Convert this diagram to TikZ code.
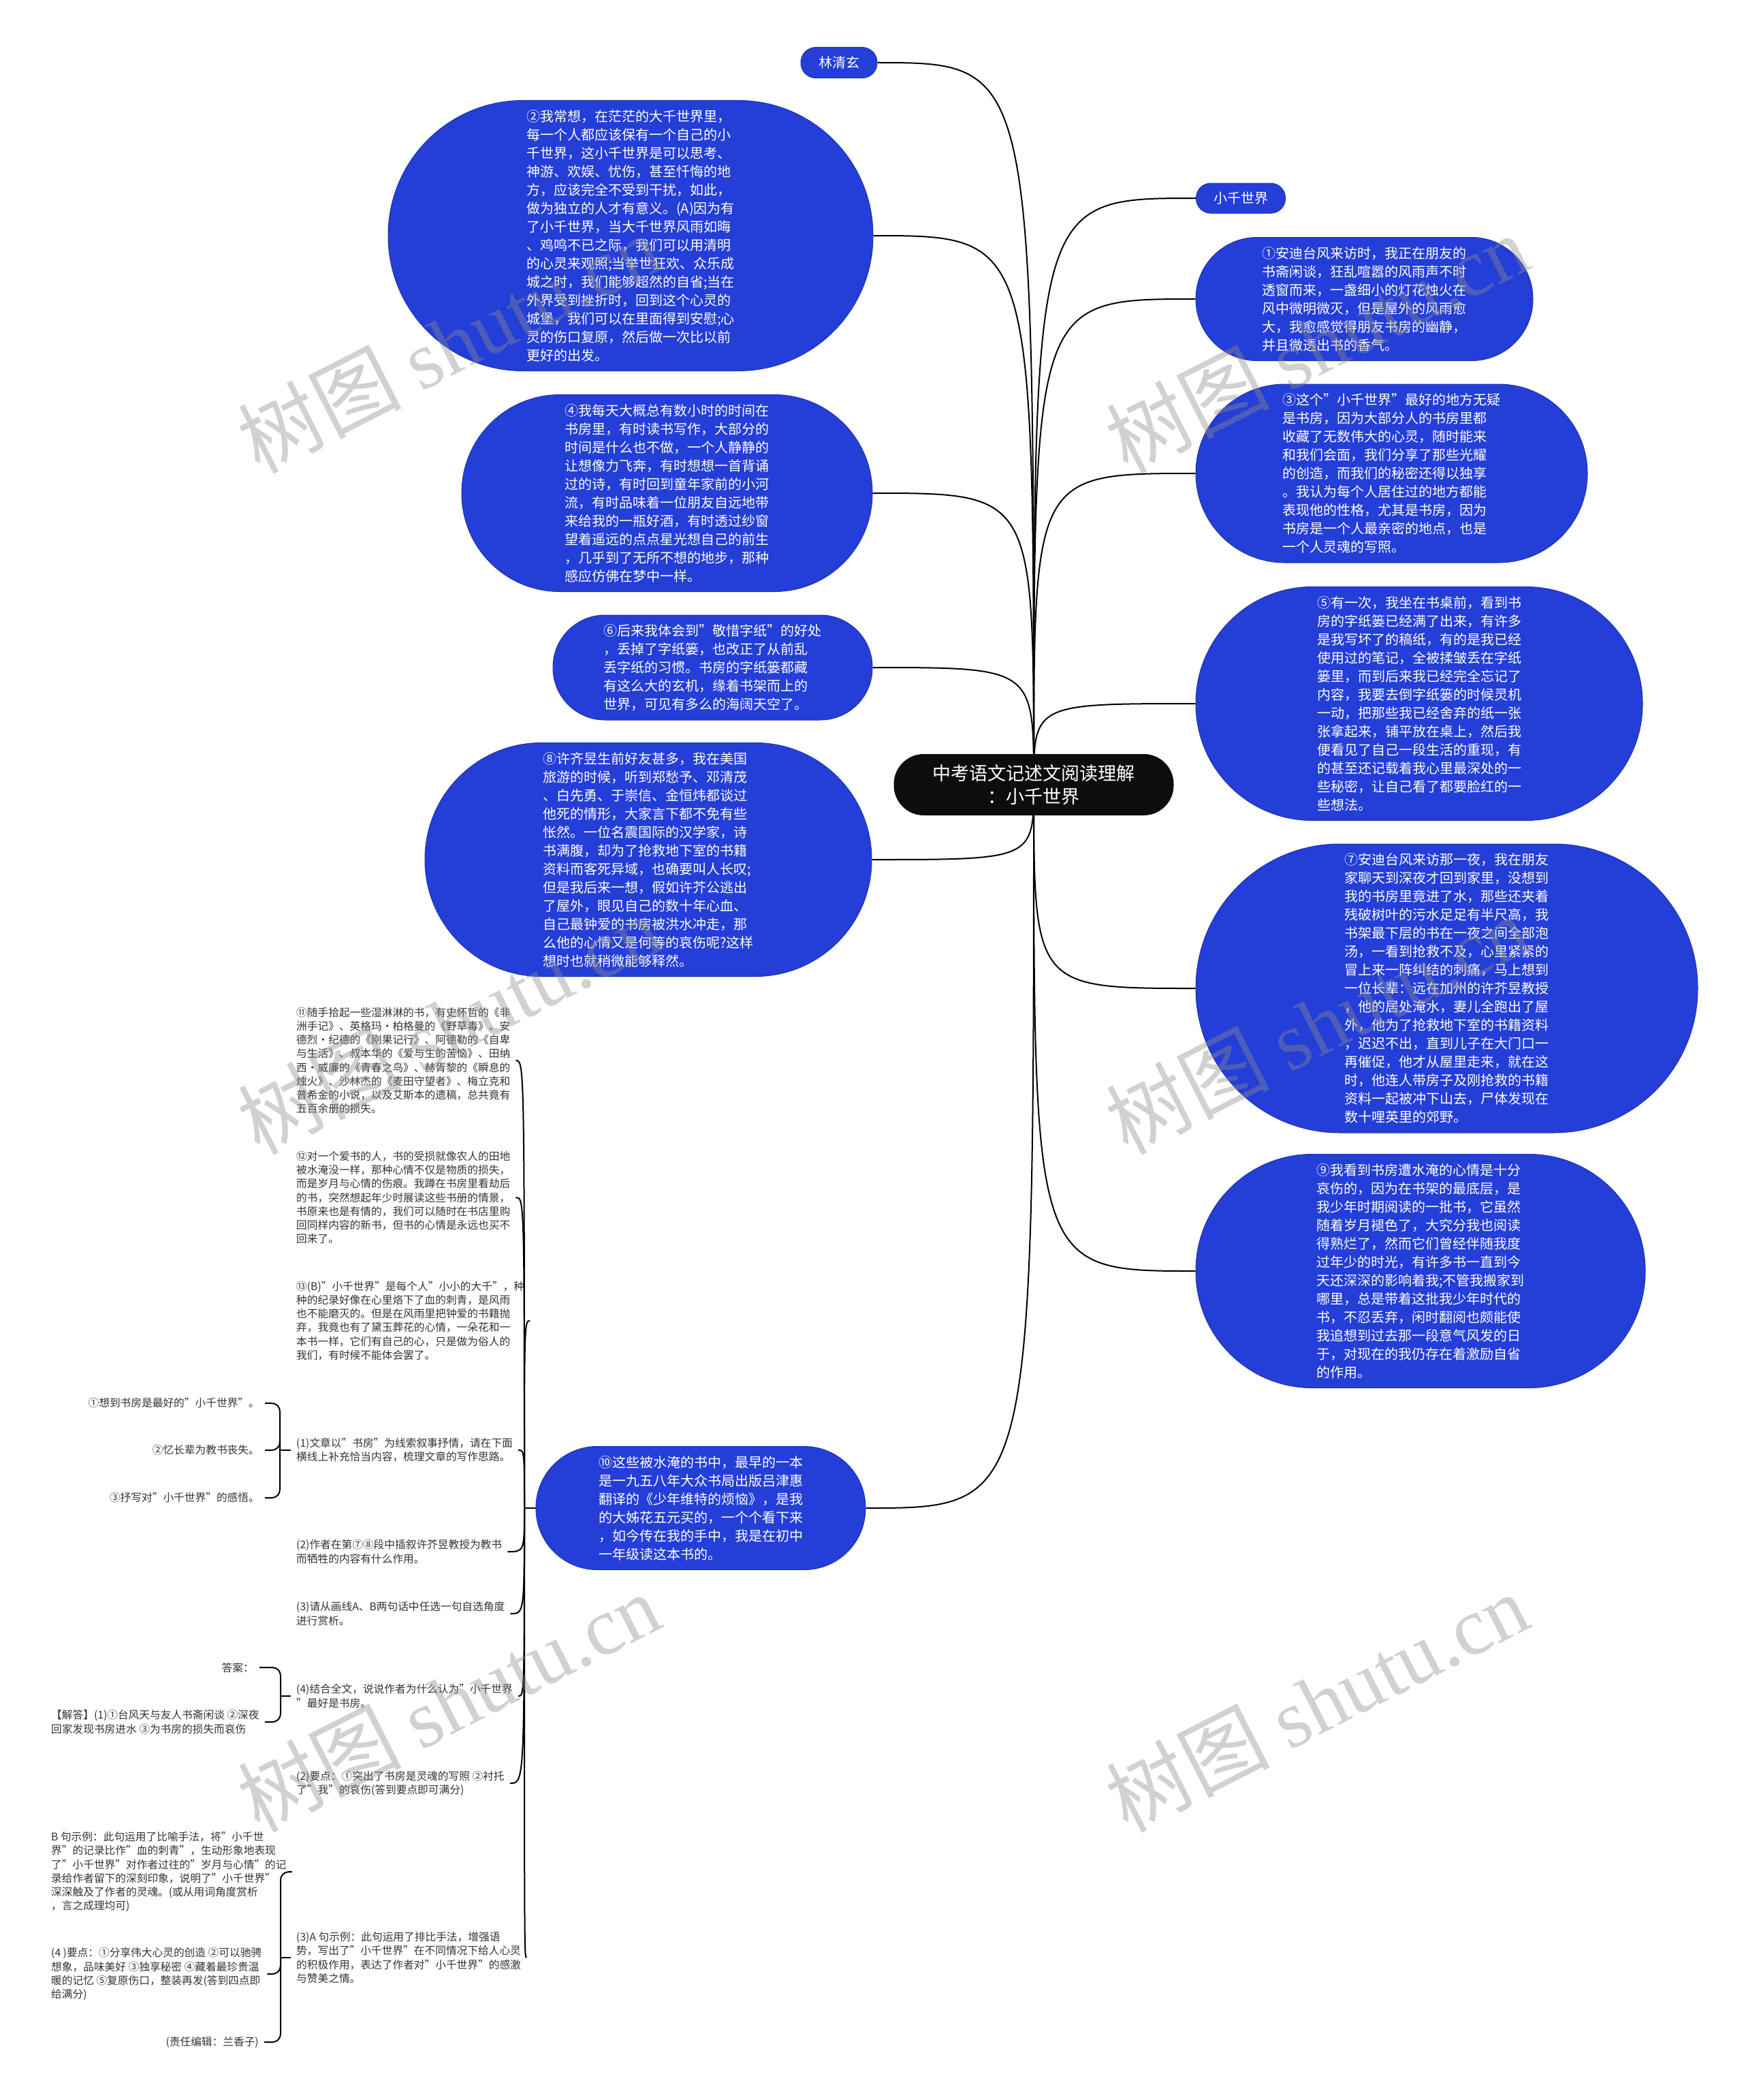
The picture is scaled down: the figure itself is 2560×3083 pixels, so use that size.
\documentclass[tikz,border=0pt]{standalone}
\usepackage{fontspec}
\setmainfont{Noto Sans CJK SC}
\newfontfamily\wmserif{Liberation Serif}
\usetikzlibrary{backgrounds}
\definecolor{bblue}{RGB}{36,62,216}
\definecolor{txtgray}{RGB}{51,51,51}
\definecolor{wmgray}{RGB}{140,140,140}
\begin{document}
\begin{tikzpicture}[x=1pt,y=-1pt,
  link/.style={line width=2pt, draw=black},
  bub/.style={fill=bblue, draw=bblue!80!black, line width=1pt, text=white, align=left, font=\fontsize{20}{27}\selectfont, inner sep=0pt},
  pill/.style={fill=bblue, draw=bblue!80!black, line width=1pt, text=white, font=\fontsize{20}{24}\selectfont, inner sep=0pt},
  rootbox/.style={fill=black!95, text=white, align=center, font=\fontsize{27}{34}\selectfont, inner sep=0pt},
  small/.style={text=txtgray, font=\fontsize{15.7}{20.2}\selectfont, inner xsep=8pt, inner ysep=2pt},
  wm/.style={text=wmgray, text opacity=0.4, font=\fontsize{120}{120}\selectfont, inner sep=0pt, rotate=27, anchor=south west}
]
\useasboundingbox (0,0) rectangle (2560,3083);

% ---------- root ----------
\node[rootbox, minimum width=411pt, minimum height=90pt, rounded corners=44pt] (root) at (1518,1152) {中考语文记述文阅读理解\\：小千世界};
\coordinate (rc) at (1518,1152);

% ---------- top pills ----------
\node[pill, minimum width=112pt, minimum height=45pt, rounded corners=22pt] (lqx) at (1232,92) {林清玄};
\node[pill, minimum width=131pt, minimum height=44pt, rounded corners=21.5pt] (xqsj) at (1822,291) {小千世界};

% ---------- left bubbles ----------
\node[bub, minimum width=712pt, minimum height=397pt, rounded corners=198pt] (n2) at (926,346) {②我常想，在茫茫的大千世界里，\\每一个人都应该保有一个自己的小\\千世界，这小千世界是可以思考、\\神游、欢娱、忧伤，甚至忏悔的地\\方，应该完全不受到干扰，如此，\\做为独立的人才有意义。(A)因为有\\了小千世界，当大千世界风雨如晦\\、鸡鸣不已之际，我们可以用清明\\的心灵来观照;当举世狂欢、众乐成\\城之时，我们能够超然的自省;当在\\外界受到挫折时，回到这个心灵的\\城堡，我们可以在里面得到安慰;心\\灵的伤口复原，然后做一次比以前\\更好的出发。};

\node[bub, minimum width=603pt, minimum height=289pt, rounded corners=144pt] (n4) at (979.5,724) {④我每天大概总有数小时的时间在\\书房里，有时读书写作，大部分的\\时间是什么也不做，一个人静静的\\让想像力飞奔，有时想想一首背诵\\过的诗，有时回到童年家前的小河\\流，有时品味着一位朋友自远地带\\来给我的一瓶好酒，有时透过纱窗\\望着遥远的点点星光想自己的前生\\，几乎到了无所不想的地步，那种\\感应仿佛在梦中一样。};

\node[bub, minimum width=469pt, minimum height=154pt, rounded corners=76.5pt] (n6) at (1046.5,980) {⑥后来我体会到"敬惜字纸"的好处\\，丢掉了字纸篓，也改正了从前乱\\丢字纸的习惯。书房的字纸篓都藏\\有这么大的玄机，缘着书架而上的\\世界，可见有多么的海阔天空了。};

\node[bub, minimum width=656pt, minimum height=343pt, rounded corners=171pt] (n8) at (952,1262) {⑧许齐昱生前好友甚多，我在美国\\旅游的时候，听到郑愁予、邓清茂\\、白先勇、于崇信、金恒炜都谈过\\他死的情形，大家言下都不免有些\\怅然。一位名震国际的汉学家，诗\\书满腹，却为了抢救地下室的书籍\\资料而客死异域，也确要叫人长叹;\\但是我后来一想，假如许芥公逃出\\了屋外，眼见自己的数十年心血、\\自己最钟爱的书房被洪水冲走，那\\么他的心情又是何等的哀伤呢?这样\\想时也就稍微能够释然。};

\node[bub, minimum width=484pt, minimum height=181pt, rounded corners=90pt] (n10) at (1029,2214) {⑩这些被水淹的书中，最早的一本\\是一九五八年大众书局出版吕津惠\\翻译的《少年维特的烦恼》，是我\\的大姊花五元买的，一个个看下来\\，如今传在我的手中，我是在初中\\一年级读这本书的。};

% ---------- right bubbles ----------
\node[bub, minimum width=495pt, minimum height=181pt, rounded corners=90pt] (n1) at (2003.5,439) {①安迪台风来访时，我正在朋友的\\书斋闲谈，狂乱喧嚣的风雨声不时\\透窗而来，一盏细小的灯花烛火在\\风中微明微灭，但是屋外的风雨愈\\大，我愈感觉得朋友书房的幽静，\\并且微透出书的香气。};

\node[bub, minimum width=575pt, minimum height=262pt, rounded corners=130.5pt] (n3) at (2043.5,695) {③这个"小千世界"最好的地方无疑\\是书房，因为大部分人的书房里都\\收藏了无数伟大的心灵，随时能来\\和我们会面，我们分享了那些光耀\\的创造，而我们的秘密还得以独享\\。我认为每个人居住过的地方都能\\表现他的性格，尤其是书房，因为\\书房是一个人最亲密的地点，也是\\一个人灵魂的写照。};

\node[bub, minimum width=656pt, minimum height=343pt, rounded corners=171pt] (n5) at (2084,1033) {⑤有一次，我坐在书桌前，看到书\\房的字纸篓已经满了出来，有许多\\是我写坏了的稿纸，有的是我已经\\使用过的笔记，全被揉皱丢在字纸\\篓里，而到后来我已经完全忘记了\\内容，我要去倒字纸篓的时候灵机\\一动，把那些我已经舍弃的纸一张\\张拿起来，铺平放在桌上，然后我\\便看见了自己一段生活的重现，有\\的甚至还记载着我心里最深处的一\\些秘密，让自己看了都要脸红的一\\些想法。};

\node[bub, minimum width=737pt, minimum height=424pt, rounded corners=211.5pt] (n7) at (2124.5,1451) {⑦安迪台风来访那一夜，我在朋友\\家聊天到深夜才回到家里，没想到\\我的书房里竟进了水，那些还夹着\\残破树叶的污水足足有半尺高，我\\书架最下层的书在一夜之间全部泡\\汤，一看到抢救不及，心里紧紧的\\冒上来一阵纠结的刺痛，马上想到\\一位长辈：远在加州的许芥昱教授\\，他的居处淹水，妻儿全跑出了屋\\外，他为了抢救地下室的书籍资料\\，迟迟不出，直到儿子在大门口一\\再催促，他才从屋里走来，就在这\\时，他连人带房子及刚抢救的书籍\\资料一起被冲下山去，尸体发现在\\数十哩英里的郊野。};

\node[bub, minimum width=660pt, minimum height=343pt, rounded corners=171pt] (n9) at (2086,1866) {⑨我看到书房遭水淹的心情是十分\\哀伤的，因为在书架的最底层，是\\我少年时期阅读的一批书，它虽然\\随着岁月褪色了，大究分我也阅读\\得熟烂了，然而它们曾经伴随我度\\过年少的时光，有许多书一直到今\\天还深深的影响着我;不管我搬家到\\哪里，总是带着这批我少年时代的\\书，不忍丢弃，闲时翻阅也颇能使\\我追想到过去那一段意气风发的日\\于，对现在的我仍存在着激励自省\\的作用。};

% ---------- left column texts ----------
\node[small, anchor=west, align=left] (n11) at (427,1557) {⑪随手拾起一些湿淋淋的书，有史怀哲的《非\\洲手记》、英格玛•柏格曼的《野草毒》、安\\德烈•纪德的《刚果记行》、阿德勒的《自卑\\与生活》、叔本华的《爱与生的苦恼》、田纳\\西•威廉的《青春之鸟》、赫胥黎的《瞬息的\\烛火》、沙林杰的《麦田守望者》、梅立克和\\普希金的小说，以及艾斯本的遗稿，总共竟有\\五百余册的损失。};
\node[small, anchor=west, align=left] (n12) at (427,1758) {⑫对一个爱书的人，书的受损就像农人的田地\\被水淹没一样，那种心情不仅是物质的损失，\\而是岁月与心情的伤痕。我蹲在书房里看劫后\\的书，突然想起年少时展读这些书册的情景，\\书原来也是有情的，我们可以随时在书店里购\\回同样内容的新书，但书的心情是永远也买不\\回来了。};
\node[small, anchor=west, align=left] (n13) at (427,1939) {⑬(B)"小千世界"是每个人"小小的大千"，种\\种的纪录好像在心里烙下了血的刺青，是风雨\\也不能磨灭的。但是在风雨里把钟爱的书籍抛\\弃，我竟也有了黛玉葬花的心情，一朵花和一\\本书一样，它们有自己的心，只是做为俗人的\\我们，有时候不能体会罢了。};
\node[small, anchor=west, align=left] (q1) at (427,2129) {(1)文章以"书房"为线索叙事抒情，请在下面\\横线上补充恰当内容，梳理文章的写作思路。};
\node[small, anchor=west, align=left] (q2) at (427,2278) {(2)作者在第⑦⑧段中插叙许芥昱教授为教书\\而牺牲的内容有什么作用。};
\node[small, anchor=west, align=left] (q3) at (427,2369) {(3)请从画线A、B两句话中任选一句自选角度\\进行赏析。};
\node[small, anchor=west, align=left] (q4) at (427,2490) {(4)结合全文，说说作者为什么认为"小千世界\\"最好是书房。};
\node[small, anchor=west, align=left] (q5) at (427,2618) {(2)要点：①突出了书房是灵魂的写照 ②衬托\\了"我"的哀伤(答到要点即可满分)};
\node[small, anchor=west, align=left] (q6) at (427,2874) {(3)A 句示例：此句运用了排比手法，增强语\\势，写出了"小千世界"在不同情况下给人心灵\\的积极作用，表达了作者对"小千世界"的感激\\与赞美之情。};

% ---------- far-left texts ----------
\node[small, anchor=east, align=right] (a1) at (389,2060) {①想到书房是最好的"小千世界"。};
\node[small, anchor=east, align=right] (a2) at (389,2129) {②忆长辈为教书丧失。};
\node[small, anchor=east, align=right] (a3) at (389,2199) {③抒写对"小千世界"的感悟。};
\node[small, anchor=east, align=right] (b1) at (381,2448) {答案：};
\node[small, anchor=west, align=left] (b2) at (67,2528) {【解答】(1)①台风天与友人书斋闲谈 ②深夜\\回家发现书房进水 ③为书房的损失而哀伤};
\node[small, anchor=west, align=left] (c1) at (67,2748) {B 句示例：此句运用了比喻手法，将"小千世\\界"的记录比作"血的刺青"，生动形象地表现\\了"小千世界"对作者过往的"岁月与心情"的记\\录给作者留下的深刻印象，说明了"小千世界"\\深深触及了作者的灵魂。(或从用词角度赏析\\，言之成理均可)};
\node[small, anchor=west, align=left] (c2) at (67,2898) {(4 )要点：①分享伟大心灵的创造 ②可以驰骋\\想象，品味美好 ③独享秘密 ④藏着最珍贵温\\暖的记忆 ⑤复原伤口，整装再发(答到四点即\\给满分)};
\node[small, anchor=east, align=right] (c3) at (388,2998) {(责任编辑：兰香子)};

\coordinate (s10) at (770,2214);
\coordinate (k1) at (411,2129);
\coordinate (k2) at (412,2490);
\coordinate (k3) at (412,2874);

% ---------- connectors ----------
\begin{scope}[on background layer]
\fill[white] (0,0) rectangle (2560,3083);
\foreach \n in {lqx,n2,n4,n6,n8,n10}
  \draw[link] (rc) .. controls (rc |- \n.east) .. (\n.east);
\foreach \n in {xqsj,n1,n3,n5,n7,n9}
  \draw[link] (rc) .. controls (rc |- \n.west) .. (\n.west);
\draw[link] (n10.west) -- (s10);
\foreach \n in {n11,n12,n13,q1,q2,q3,q4,q5,q6}
  \draw[link] (s10) .. controls (s10 |- \n.east) .. (\n.east);
\draw[link] (q1.west) -- (k1);
\foreach \n in {a1,a2,a3}
  \draw[link, rounded corners=12pt] (k1) |- (\n.east);
\draw[link] (q4.west) -- (k2);
\foreach \n in {b1,b2}
  \draw[link, rounded corners=12pt] (k2) |- (\n.east);
\draw[link] (q6.west) -- (k3);
\foreach \n in {c1,c2,c3}
  \draw[link, rounded corners=12pt] (k3) |- (\n.east);
\end{scope}

% ---------- watermarks ----------
\node[wm] (w1) at (385,705) {树图 {\wmserif shutu.cn}};
\node[wm] (w2) at (1660,705) {树图 {\wmserif shutu.cn}};
\node[wm] (w3) at (385,1705) {树图 {\wmserif shutu.cn}};
\node[wm] (w4) at (1660,1705) {树图 {\wmserif shutu.cn}};
\node[wm] (w5) at (385,2700) {树图 {\wmserif shutu.cn}};
\node[wm] (w6) at (1660,2700) {树图 {\wmserif shutu.cn}};
\end{tikzpicture}
\end{document}
